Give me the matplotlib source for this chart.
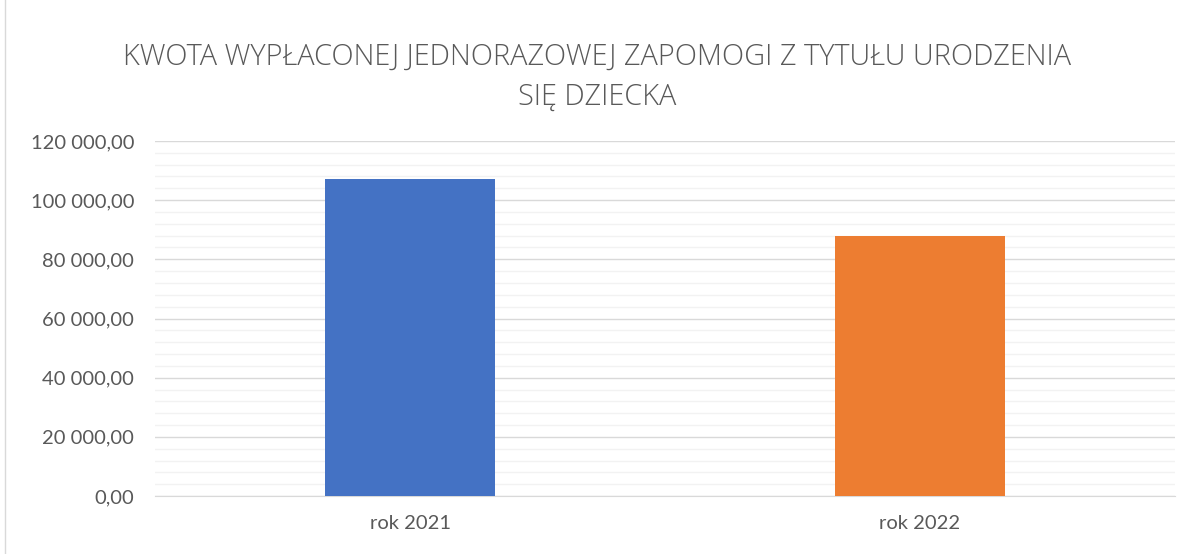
import matplotlib
matplotlib.use("Agg")
import matplotlib.pyplot as plt
from matplotlib.ticker import MultipleLocator, FuncFormatter
from matplotlib.patches import Rectangle

categories = ["rok 2021", "rok 2022"]
values = [107000, 88000]
colors = ["#4472C4", "#ED7D31"]
title = "KWOTA WYPŁACONEJ JEDNORAZOWEJ ZAPOMOGI Z TYTUŁU URODZENIA\nSIĘ DZIECKA"

plt.rcParams['font.family'] = ['Lato', 'DejaVu Sans']

fig = plt.figure(figsize=(11.94, 5.54), dpi=100)
ax = fig.add_axes([155/1194, 1 - 496/554, (1175-155)/1194, (496-141)/554])

x = list(range(len(categories)))
ax.bar(x, values, width=0.335, color=colors, zorder=3)
ax.set_xlim(-0.5, len(categories) - 0.5)
ax.set_ylim(0, 120000)
ax.yaxis.set_major_locator(MultipleLocator(20000))
ax.yaxis.set_minor_locator(MultipleLocator(4000))

def fmt(v, pos):
    s = f"{v:,.2f}".replace(",", " ").replace(".", ",")
    return s
ax.yaxis.set_major_formatter(FuncFormatter(fmt))
ax.set_xticks(x)
ax.set_xticklabels(categories)

ax.grid(axis='y', which='major', color='#d9d9d9', linewidth=1.0, zorder=0)
ax.grid(axis='y', which='minor', color='#f2f2f2', linewidth=1.0, zorder=0)
for s in ['top', 'right', 'left']:
    ax.spines[s].set_visible(False)
ax.spines['bottom'].set_color('#d9d9d9')
ax.tick_params(axis='both', which='both', length=0, colors='#595959', labelsize=14.5)
ax.tick_params(axis='y', pad=15)
ax.tick_params(axis='x', pad=14)

fig.text(0.5, 1 - 77/554, title, ha='center', va='center', fontsize=20.8,
         color='#595959', fontweight='light', linespacing=1.45,
         family=['Open Sans', 'DejaVu Sans'])

fig.patches.append(Rectangle((5/1194, -0.1), 1.2, 1.2, transform=fig.transFigure,
                             fill=False, edgecolor='#d9d9d9', linewidth=1))

fig.savefig("out.png", dpi=100)
